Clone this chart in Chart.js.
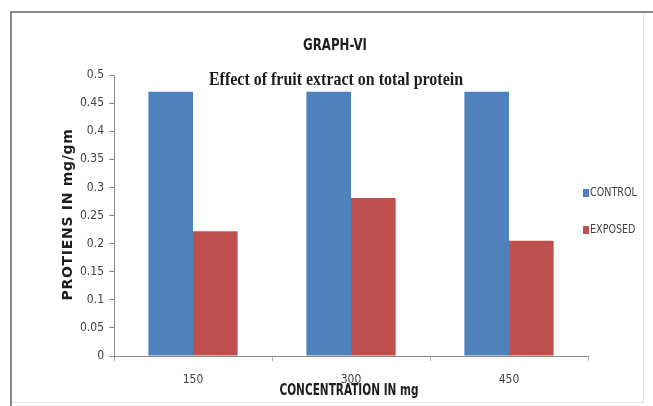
<!DOCTYPE html>
<html>
<head>
<meta charset="utf-8">
<script src="https://cdn.jsdelivr.net/npm/chart.js@4/dist/chart.umd.min.js"></script>
<style>
  html, body { margin: 0; padding: 0; background: #ffffff; }
  #wrap { width: 653px; height: 406px; position: relative; }
</style>
</head>
<body>
<div id="wrap"><canvas id="c" width="653" height="406"></canvas></div>
<script>
// Protein content (mg/gm) at each fruit extract concentration
const concentrations = ['150', '300', '450'];
const controlValues = [0.47, 0.47, 0.47];
const exposedValues = [0.222, 0.281, 0.205];
const yTicks = [0, 0.05, 0.1, 0.15, 0.2, 0.25, 0.3, 0.35, 0.4, 0.45, 0.5];

const chartTitle = 'GRAPH-VI';
const chartSubtitle = 'Effect of fruit extract on total protein';
const yAxisTitle = 'PROTIENS IN mg/gm';
const xAxisTitle = 'CONCENTRATION IN mg';

const NARROW = "'Liberation Sans Narrow', 'DejaVu Sans Condensed', 'Arial Narrow', sans-serif";
const SERIF_BOLD = "'Liberation Serif', 'DejaVu Serif Condensed', serif";

// Draws text squeezed horizontally around (x, y)
function squeezed(ctx, text, x, y, font, sx, rot) {
  ctx.save();
  ctx.translate(x, y);
  if (rot) ctx.rotate(rot);
  ctx.scale(sx, 1);
  ctx.font = font;
  ctx.fillText(text, 0, 0);
  ctx.restore();
}

// Frame, headings, axis titles and the side legend
const decorations = {
  id: 'decorations',
  beforeDraw(chart) {
    const ctx = chart.ctx;
    ctx.save();
    ctx.fillStyle = '#ffffff';
    ctx.fillRect(0, 0, chart.width, chart.height);
    ctx.strokeStyle = '#e6e6e6';
    ctx.lineWidth = 1;
    ctx.strokeRect(11.5, 12.5, 632, 390);
    ctx.strokeStyle = '#8a8a8a';
    ctx.lineWidth = 2;
    ctx.beginPath();
    ctx.moveTo(11, 406);
    ctx.lineTo(11, 12);
    ctx.lineTo(653, 12);
    ctx.stroke();
    ctx.restore();
  },
  afterDraw(chart) {
    const ctx = chart.ctx;
    const xs = chart.scales.x, ys = chart.scales.y;
    ctx.save();
    ctx.textAlign = 'center';
    ctx.textBaseline = 'middle';
    ctx.fillStyle = '#1e1e1e';

    squeezed(ctx, chartTitle, 335, 46, "bold 16px " + NARROW, 0.82);
    squeezed(ctx, chartSubtitle, 336, 80, "bold 19px " + SERIF_BOLD, 0.84);

    // axis titles
    squeezed(ctx, xAxisTitle, (xs.left + xs.right) / 2 - 2, 391, "bold 15px " + NARROW, 0.78);
    ctx.save();
    ctx.translate(68, (ys.top + ys.bottom) / 2 - 1);
    ctx.rotate(-Math.PI / 2);
    ctx.font = "bold 14px 'DejaVu Sans', sans-serif";
    ctx.letterSpacing = '0.7px';
    ctx.fillText(yAxisTitle, 0, 0);
    ctx.restore();

    // legend
    ctx.textAlign = 'left';
    chart.data.datasets.forEach((ds, i) => {
      const y = 193 + i * 37;
      ctx.fillStyle = ds.backgroundColor;
      ctx.fillRect(583, y - 4, 6, 8);
      ctx.fillStyle = '#404040';
      squeezed(ctx, ds.label, 590, y, "13px " + NARROW, 0.82);
    });
    ctx.restore();
  }
};

new Chart(document.getElementById('c'), {
  type: 'bar',
  data: {
    labels: concentrations,
    datasets: [
      { label: 'CONTROL', data: controlValues, backgroundColor: '#4F81BD', borderWidth: 0 },
      { label: 'EXPOSED', data: exposedValues, backgroundColor: '#C0504D', borderWidth: 0 }
    ]
  },
  options: {
    responsive: false,
    animation: false,
    devicePixelRatio: 1,
    layout: { padding: { left: 40, top: 75, right: 65, bottom: 0 } },
    plugins: {
      legend: { display: false },
      title: { display: false },
      tooltip: { enabled: false }
    },
    datasets: { bar: { categoryPercentage: 0.565, barPercentage: 1.0 } },
    scales: {
      x: {
        grid: { display: true, drawOnChartArea: false, offset: true, tickLength: 5, color: '#b0b0b0' },
        border: { display: true, color: '#8a8a8a', width: 1 },
        ticks: { color: '#404040', font: { family: NARROW, size: 12 }, padding: 12 },
        title: { display: false },
        afterFit(scale) { scale.height = 50; }
      },
      y: {
        min: 0, max: 0.5,
        afterBuildTicks(scale) { scale.ticks = yTicks.map(v => ({ value: v })); },
        grid: { display: true, drawOnChartArea: false, tickLength: 5, color: '#8a8a8a' },
        border: { display: true, color: '#8a8a8a', width: 1 },
        ticks: { color: '#404040', font: { family: NARROW, size: 12 }, padding: 5,
                 callback: v => String(v) },
        title: { display: false },
        afterFit(scale) { scale.width = 74; }
      }
    }
  },
  plugins: [decorations]
});
</script>
</body>
</html>
